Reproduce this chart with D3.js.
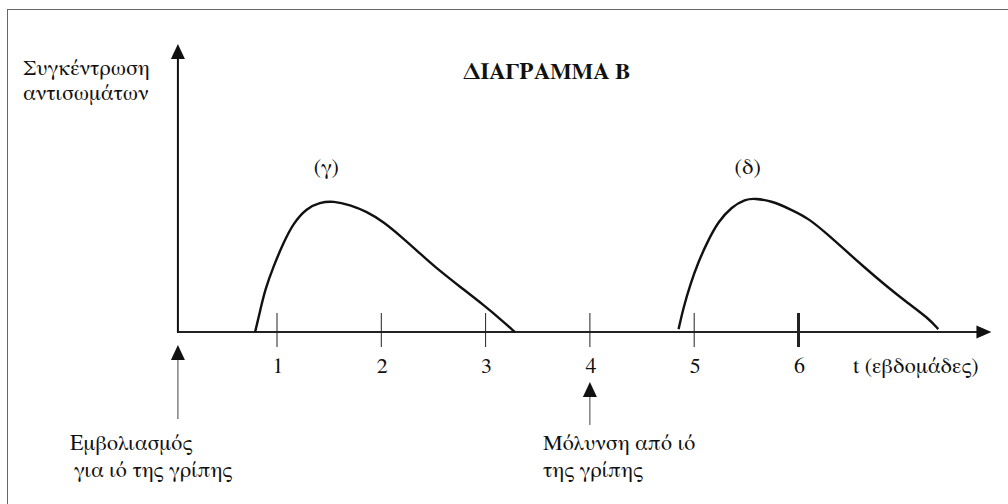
<!DOCTYPE html>
<html>
<head>
<meta charset="utf-8">
<script src="https://cdn.jsdelivr.net/npm/d3@7"></script>
<style>
  body { margin: 0; background: #fff; }
</style>
</head>
<body>
<div id="chart"></div>
<script>
// weeks on the x axis, antibody level in arbitrary units (0-100)
var tickWeeks = [1, 2, 3, 4, 5, 6]
var tickLabels = ['1', '2', '3', '4', '5', '6']
var boldTick = 6

// curve (γ): response after vaccination
var gammaT = [0.79, 0.84, 0.885, 0.965, 1.06, 1.155, 1.285, 1.41, 1.54, 1.70, 1.86, 2.02, 2.21, 2.37, 2.53, 2.755, 2.98, 3.17, 3.28]
var gammaV = [0, 7.6, 14.6, 22.7, 30.8, 37.7, 43.0, 45.0, 45.5, 44.1, 41.8, 38.3, 32.5, 27.3, 22.1, 15.7, 9.4, 3.6, 0]

// curve (δ): response after infection
var deltaT = [4.85, 4.895, 4.96, 5.04, 5.135, 5.23, 5.36, 5.49, 5.58, 5.745, 5.935, 6.095, 6.285, 6.445, 6.605, 6.83, 7.05, 7.245, 7.34]
var deltaV = [1.0, 8.2, 16.3, 24.4, 31.9, 38.3, 43.5, 46.1, 46.4, 45.5, 42.4, 39.5, 33.7, 28.5, 23.3, 16.3, 10.0, 4.8, 1.0]

var vaccineWeek = 0.05
var infectionWeek = 4
var axisEndWeek = 7.85

var width = 1008, height = 504
// Liberation Serif has no Greek here, FreeSerif does and looks like Times
var serif = '"FreeSerif", "Liberation Serif", serif'

var x = d3.scaleLinear().domain([0, 8]).range([172.7, 172.7 + 8 * 104.3])
var y = d3.scaleLinear().domain([0, 100]).range([332, 44])

var svg = d3.select('#chart').append('svg')
  .attr('width', width)
  .attr('height', height)

// frame (only top and left edges show in the picture)
svg.append('rect')
  .attr('x', 7.5).attr('y', 9.5)
  .attr('width', 1100).attr('height', 600)
  .attr('fill', 'none')
  .attr('stroke', '#666')
  .attr('stroke-width', 1)

function arrowHead(tipX, tipY, dir, len, half) {
  // dir: 'up' or 'right'
  var pts
  if (dir == 'up') pts = [[tipX, tipY], [tipX - half, tipY + len], [tipX + half, tipY + len]]
  else pts = [[tipX, tipY], [tipX - len, tipY - half], [tipX - len, tipY + half]]
  svg.append('path')
    .attr('d', 'M' + pts.map(function(p) { return p.join(',') }).join('L') + 'Z')
    .attr('fill', '#111')
}

function label(xp, yp, str, size) {
  return svg.append('text')
    .attr('x', xp).attr('y', yp)
    .attr('fill', '#111')
    .style('font-family', serif)
    .style('font-size', (size || 22) + 'px')
    .text(str)
}

var x0 = x(vaccineWeek)

// y axis
svg.append('line')
  .attr('x1', x0).attr('x2', x0)
  .attr('y1', y(0) + 1).attr('y2', y(100) + 12)
  .attr('stroke', '#111').attr('stroke-width', 2)
arrowHead(x0, y(100), 'up', 15, 7)

// x axis
svg.append('line')
  .attr('x1', x0).attr('x2', x(axisEndWeek) - 12)
  .attr('y1', y(0)).attr('y2', y(0))
  .attr('stroke', '#222').attr('stroke-width', 1.8)
arrowHead(x(axisEndWeek), y(0), 'right', 15, 6.5)

// ticks
svg.selectAll('.tick')
  .data(tickWeeks)
  .enter().append('line')
  .attr('class', 'tick')
  .attr('x1', function(d) { return x(d) })
  .attr('x2', function(d) { return x(d) })
  .attr('y1', y(0) - 19)
  .attr('y2', y(0) + 15)
  .attr('stroke', '#222')
  .attr('stroke-width', function(d) { return d == boldTick ? 3 : 1 })

tickWeeks.forEach(function(d, i) {
  label(x(d) + 1, 373, tickLabels[i]).attr('text-anchor', 'middle')
})

label(853, 373, 't (εβδομάδες)')

// y label
label(23, 75, 'Συγκέντρωση')
label(23, 100, 'αντισωμάτων')

// title
label(463, 79, 'ΔΙΑΓΡΑΜΜΑ Β', 23)
  .style('font-weight', 'bold')
  .attr('textLength', 167)
  .attr('lengthAdjust', 'spacingAndGlyphs')

// curves
var line = d3.line()
  .x(function(d) { return x(d[0]) })
  .y(function(d) { return y(d[1]) })
  .curve(d3.curveBasis)

var curves = [
  { name: '(γ)', data: d3.zip(gammaT, gammaV) },
  { name: '(δ)', data: d3.zip(deltaT, deltaV) }
]

curves.forEach(function(c) {
  svg.append('path')
    .datum(c.data)
    .attr('d', line)
    .attr('fill', 'none')
    .attr('stroke', '#111')
    .attr('stroke-width', 2.4)
    .attr('stroke-linejoin', 'round')

  var peak = d3.greatest(c.data, function(d) { return d[1] })
  label(x(peak[0]) - 7, 174, c.name).attr('text-anchor', 'middle')
})

// annotation arrows
function annotation(week, tipY, bottomY, lines, textX, firstBaseline) {
  var ax = x(week)
  svg.append('line')
    .attr('x1', ax).attr('x2', ax)
    .attr('y1', tipY + 10).attr('y2', bottomY)
    .attr('stroke', '#444').attr('stroke-width', 1)
  arrowHead(ax, tipY, 'up', 15, 7)
  lines.forEach(function(l, i) {
    label(textX[i], firstBaseline + i * 27, l)
  })
}

annotation(vaccineWeek, 345, 419, ['Εμβολιασμός', 'για ιό της γρίπης'], [70, 74], 450)
annotation(infectionWeek, 382, 425, ['Μόλυνση από ιό', 'της γρίπης'], [543, 543], 450)
</script>
</body>
</html>
